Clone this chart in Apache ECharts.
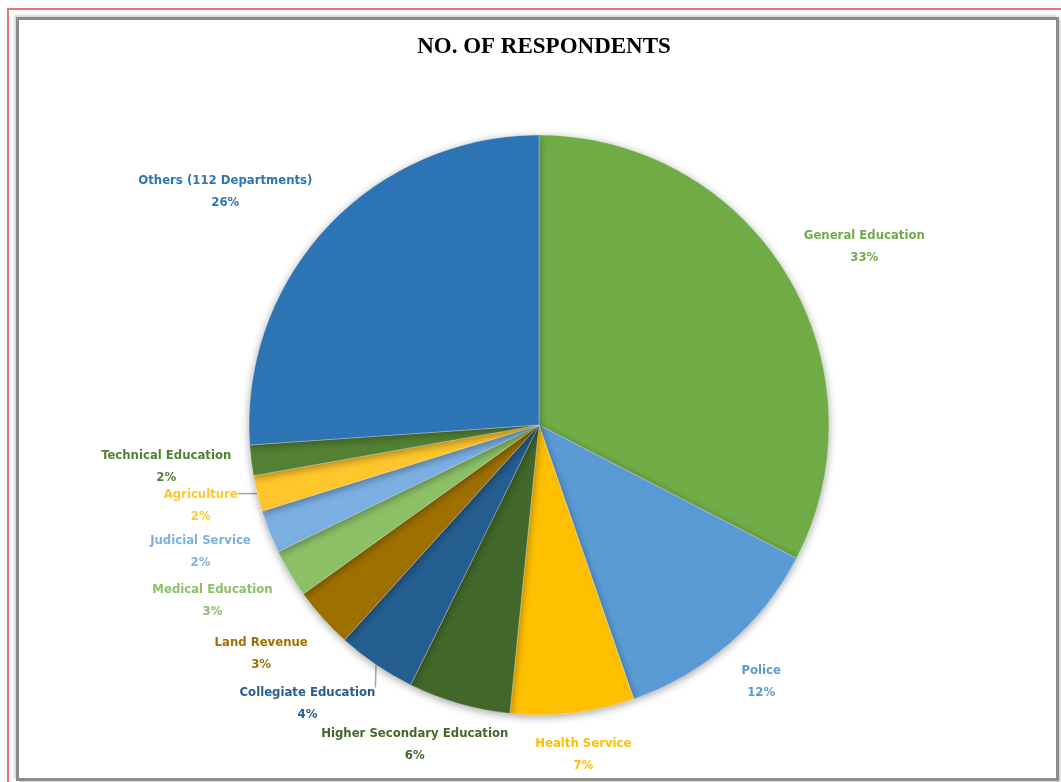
<!DOCTYPE html>
<html lang="en" style="height: 100%">
<head>
  <meta charset="utf-8">
  <style>
    body { margin: 0; background: #fff; }
    #outer { position: absolute; left: 7px; top: 8px; width: 1100px; height: 800px;
             border-top: 2px solid #e87474; border-left: 2px solid #e87474; }
    #inner { position: absolute; left: 16px; top: 17px; width: 1037px; height: 758px;
             border: 3px solid #8c8c8c; box-shadow: -2px -2px 2px #d8d8d8, 2px 2px 2px #d8d8d8; }
    #container { position: absolute; left: 0; top: 0; width: 1061px; height: 782px; }
  </style>
</head>
<body>
  <div id="outer"></div>
  <div id="inner"></div>
  <div id="container"></div>

  <script type="text/javascript" src="https://cdn.jsdelivr.net/npm/echarts@6/dist/echarts.min.js"></script>
  <script type="text/javascript">
    // departments, clockwise from 12 o'clock
    var names = ['General Education', 'Police', 'Health Service', 'Higher Secondary Education',
      'Collegiate Education', 'Land Revenue', 'Medical Education', 'Judicial Service',
      'Agriculture', 'Technical Education', 'Others (112 Departments)'];
    // share of respondents, %
    var shares = [32.6, 12.1, 6.9, 5.7, 4.4, 3.4, 2.7, 2.4, 2.0, 1.7, 26.1];
    var colors = ['#70ad47', '#5b9bd5', '#ffc000', '#43682b', '#255e91', '#9e7000',
      '#8cc168', '#7cb0e2', '#ffc72c', '#548235', '#2e75b6'];
    var withLeader = ['Agriculture', 'Collegiate Education'];

    var CX = 539, CY = 425, R = 290, GAP = 20;

    var dom = document.getElementById('container');
    var myChart = echarts.init(dom, null, { renderer: 'canvas' });

    var total = shares.reduce(function (a, b) { return a + b; }, 0);
    // mid angle of each slice, clockwise from top (radians)
    var midAngles = [];
    var acc = 0;
    shares.forEach(function (v) {
      midAngles.push((acc + v / 2) / total * Math.PI * 2);
      acc += v;
    });

    function clamp(v) { return Math.max(-1, Math.min(1, v)); }

    var pieData = names.map(function (n, i) {
      return {
        name: n,
        value: shares[i],
        itemStyle: { color: colors[i] },
        label: { color: colors[i] },
        labelLine: { show: withLeader.indexOf(n) >= 0 }
      };
    });

    var option = {
      animation: false,
      title: {
        text: 'NO. OF RESPONDENTS',
        left: CX,
        textAlign: 'center',
        top: 31,
        textStyle: { fontFamily: 'Liberation Serif', fontWeight: 'bold', fontSize: 23, color: '#000' }
      },
      series: [
        {
          type: 'pie',
          center: [CX, CY],
          radius: R,
          startAngle: 90,
          clockwise: true,
          data: pieData,
          itemStyle: {
            borderColor: 'rgba(255,255,255,0.5)',
            borderWidth: 0.6,
            shadowBlur: 8,
            shadowColor: 'rgba(0,0,0,0.35)',
            shadowOffsetY: 2
          },
          label: {
            position: 'outside',
            fontFamily: '"DejaVu Sans Condensed", "Liberation Sans Narrow", sans-serif',
            fontWeight: 'bold',
            fontSize: 13,
            lineHeight: 22,
            formatter: function (p) { return p.name + '\n' + Math.round(p.value) + '%'; }
          },
          labelLine: {
            length: 18,
            length2: 8,
            lineStyle: { color: '#a6a6a6', width: 1.5 }
          },
          // place each label radially just outside the rim, text centred
          labelLayout: function (p) {
            var a = midAngles[p.dataIndex];
            var dx = Math.sin(a), dy = -Math.cos(a);
            var w = p.labelRect.width, h = p.labelRect.height;
            var x = CX + dx * (R + GAP) + clamp(1.5 * dx) * w / 2;
            var y = CY + dy * (R + GAP) + clamp(1.5 * dy) * h / 2;
            var rimX = CX + dx * R, rimY = CY + dy * R;
            var nx = Math.max(x - w / 2, Math.min(x + w / 2, rimX));
            var ny = Math.max(y - h / 2 + 6, Math.min(y + h / 2, rimY));
            return {
              x: x, y: y, align: 'center', verticalAlign: 'middle',
              labelLinePoints: [[rimX, rimY], [nx, ny], [nx, ny]]
            };
          }
        }
      ]
    };

    myChart.setOption(option);
    window.addEventListener('resize', myChart.resize);
  </script>
</body>
</html>
